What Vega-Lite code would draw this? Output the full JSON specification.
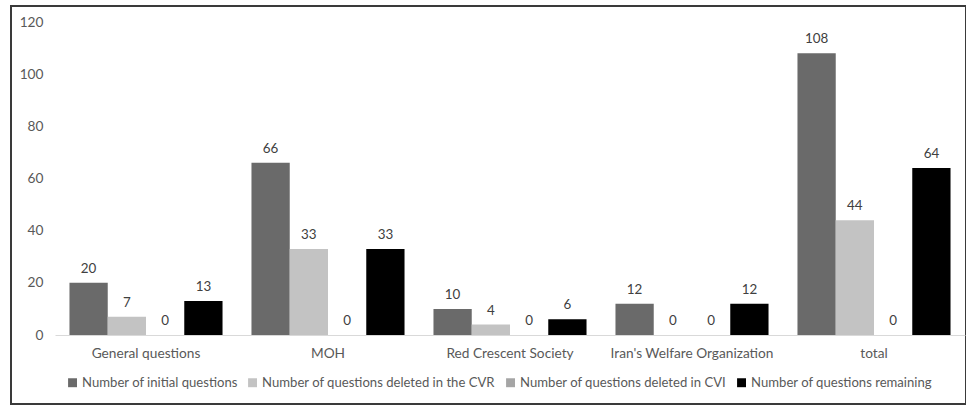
{
  "$schema": "https://vega.github.io/schema/vega-lite/v6.json",
  "width": 955,
  "height": 398,
  "autosize": {"type": "none"},
  "padding": {"left": 11, "top": 6, "right": 0, "bottom": 1},
  "background": "white",
  "config": {
    "view": {"stroke": "#3a3a3a", "strokeWidth": 2},
    "font": "Lato"
  },
  "data": {
    "values": [
      {"category": "General questions", "series": "Number of initial questions", "value": 20},
      {"category": "General questions", "series": "Number of questions deleted in the CVR", "value": 7},
      {"category": "General questions", "series": "Number of questions deleted in CVI", "value": 0},
      {"category": "General questions", "series": "Number of questions remaining", "value": 13},
      {"category": "MOH", "series": "Number of initial questions", "value": 66},
      {"category": "MOH", "series": "Number of questions deleted in the CVR", "value": 33},
      {"category": "MOH", "series": "Number of questions deleted in CVI", "value": 0},
      {"category": "MOH", "series": "Number of questions remaining", "value": 33},
      {"category": "Red Crescent Society", "series": "Number of initial questions", "value": 10},
      {"category": "Red Crescent Society", "series": "Number of questions deleted in the CVR", "value": 4},
      {"category": "Red Crescent Society", "series": "Number of questions deleted in CVI", "value": 0},
      {"category": "Red Crescent Society", "series": "Number of questions remaining", "value": 6},
      {"category": "Iran's Welfare Organization", "series": "Number of initial questions", "value": 12},
      {"category": "Iran's Welfare Organization", "series": "Number of questions deleted in the CVR", "value": 0},
      {"category": "Iran's Welfare Organization", "series": "Number of questions deleted in CVI", "value": 0},
      {"category": "Iran's Welfare Organization", "series": "Number of questions remaining", "value": 12},
      {"category": "total", "series": "Number of initial questions", "value": 108},
      {"category": "total", "series": "Number of questions deleted in the CVR", "value": 44},
      {"category": "total", "series": "Number of questions deleted in CVI", "value": 0},
      {"category": "total", "series": "Number of questions remaining", "value": 64}
    ]
  },
  "encoding": {
    "x": {
      "field": "category",
      "type": "nominal",
      "sort": ["General questions", "MOH", "Red Crescent Society", "Iran's Welfare Organization", "total"],
      "scale": {"range": [44, 954], "paddingInner": 0.159, "paddingOuter": 0.0795},
      "axis": {
        "title": null,
        "orient": "bottom",
        "offset": -69,
        "labelAngle": 0,
        "ticks": false,
        "grid": false,
        "domainColor": "#d9d9d9",
        "domainWidth": 1,
        "labelPadding": 11,
        "labelFontSize": 13.7,
        "labelColor": "#595959"
      }
    },
    "xOffset": {
      "field": "series",
      "type": "nominal",
      "sort": ["Number of initial questions", "Number of questions deleted in the CVR", "Number of questions deleted in CVI", "Number of questions remaining"],
      "scale": {"paddingInner": 0, "paddingOuter": 0}
    },
    "y": {
      "field": "value",
      "type": "quantitative",
      "scale": {"domain": [0, 120], "range": [329, 16], "nice": false},
      "axis": {
        "title": null,
        "offset": -32,
        "values": [0, 20, 40, 60, 80, 100, 120],
        "domain": false,
        "ticks": false,
        "grid": false,
        "labelPadding": 0,
        "labelFontSize": 13.7,
        "labelColor": "#595959"
      }
    }
  },
  "layer": [
    {
      "mark": {"type": "bar"},
      "encoding": {
        "color": {
          "field": "series",
          "type": "nominal",
          "sort": ["Number of initial questions", "Number of questions deleted in the CVR", "Number of questions deleted in CVI", "Number of questions remaining"],
          "scale": {
            "domain": ["Number of initial questions", "Number of questions deleted in the CVR", "Number of questions deleted in CVI", "Number of questions remaining"],
            "range": ["#6a6a6a", "#c3c3c3", "#a5a5a5", "#000000"]
          },
          "legend": {
            "title": null,
            "orient": "none",
            "direction": "horizontal",
            "columns": 4,
            "legendX": 55,
            "legendY": 370,
            "symbolType": "square",
            "symbolSize": 80,
            "symbolStrokeWidth": 0,
            "labelFontSize": 13.1,
            "labelColor": "#595959",
            "labelOffset": 3,
            "columnPadding": 8,
            "labelLimit": 400
          }
        }
      }
    },
    {
      "mark": {"type": "text", "baseline": "bottom", "dy": -7, "fontSize": 13.4, "color": "#404040"},
      "encoding": {"text": {"field": "value", "type": "quantitative"}}
    }
  ]
}
